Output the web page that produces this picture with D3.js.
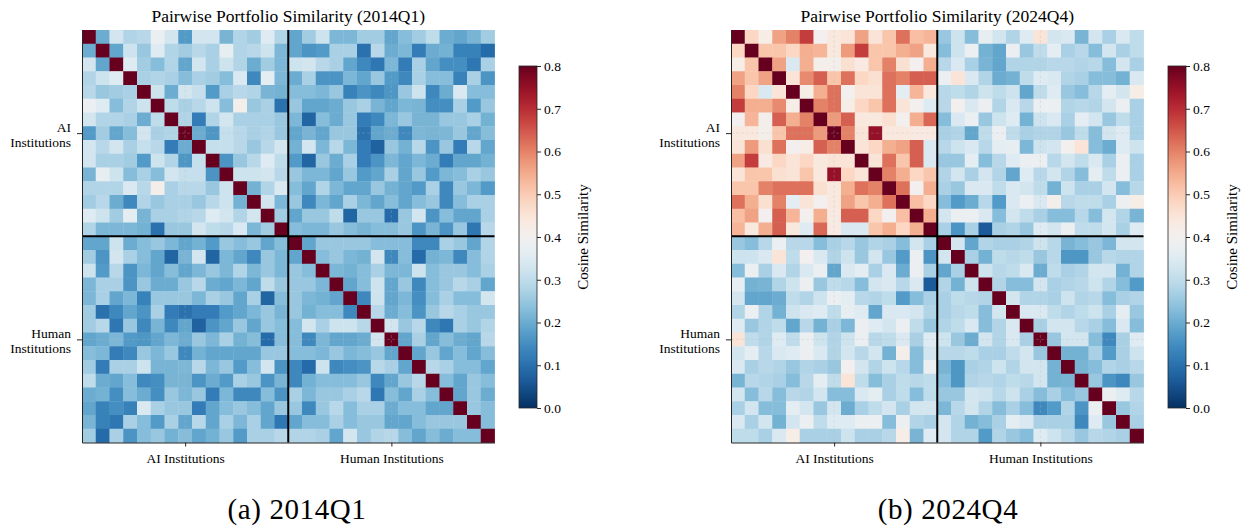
<!DOCTYPE html>
<html>
<head>
<meta charset="utf-8">
<script src="https://cdn.jsdelivr.net/npm/d3@7"></script>
<style>
  html, body { margin: 0; padding: 0; background: #fff; }
  svg { display: block; font-family: "Liberation Serif", "Times New Roman", serif; }
  svg text { font-family: "Liberation Serif", "Times New Roman", serif; }
</style>
</head>
<body>
<svg id="chart" width="1243" height="529"></svg>
<script>
// groups along both axes, 15 institutions each
const groups = ['AI Institutions', 'Human Institutions'];
const groupSize = 15;
const cbTicks = [0, 0.1, 0.2, 0.3, 0.4, 0.5, 0.6, 0.7, 0.8];
const vmax = 0.8;

// upper triangle of the similarity matrix, row i holds columns i+1..29 (diagonal = 1)
const sim2014Q1 = [
  [0.20,0.33,0.28,0.29,0.38,0.33,0.17,0.33,0.33,0.215,0.28,0.26,0.35,0.28, 0.19,0.26,0.32,0.22,0.22,0.26,0.26,0.19,0.23,0.26,0.30,0.20,0.19,0.215,0.26],
  [0.19,0.32,0.25,0.35,0.28,0.26,0.29,0.27,0.37,0.28,0.29,0.32,0.22, 0.19,0.16,0.17,0.27,0.27,0.10,0.29,0.20,0.22,0.12,0.20,0.21,0.13,0.13,0.09],
  [0.35,0.26,0.23,0.28,0.19,0.33,0.27,0.32,0.28,0.20,0.26,0.22, 0.32,0.33,0.29,0.27,0.19,0.14,0.11,0.22,0.12,0.27,0.19,0.15,0.15,0.11,0.27],
  [0.27,0.28,0.27,0.23,0.27,0.26,0.23,0.34,0.14,0.36,0.22, 0.20,0.27,0.16,0.16,0.22,0.19,0.25,0.17,0.14,0.27,0.23,0.23,0.13,0.27,0.16],
  [0.32,0.20,0.33,0.31,0.17,0.27,0.29,0.28,0.215,0.21, 0.23,0.23,0.22,0.25,0.13,0.16,0.14,0.165,0.25,0.32,0.14,0.20,0.34,0.23,0.23],
  [0.30,0.27,0.29,0.32,0.23,0.41,0.25,0.27,0.10, 0.25,0.19,0.19,0.20,0.25,0.27,0.215,0.19,0.22,0.215,0.15,0.15,0.27,0.17,0.25],
  [0.28,0.12,0.28,0.33,0.27,0.27,0.27,0.25, 0.22,0.08,0.23,0.20,0.25,0.12,0.14,0.22,0.25,0.215,0.215,0.25,0.25,0.27,0.21],
  [0.20,0.165,0.31,0.29,0.27,0.28,0.25, 0.19,0.215,0.19,0.25,0.25,0.10,0.19,0.20,0.14,0.22,0.215,0.22,0.25,0.19,0.23],
  [0.31,0.31,0.29,0.25,0.29,0.33, 0.21,0.33,0.22,0.29,0.22,0.12,0.075,0.25,0.21,0.29,0.16,0.25,0.12,0.29,0.19],
  [0.16,0.25,0.29,0.35,0.30, 0.17,0.08,0.25,0.20,0.27,0.12,0.16,0.22,0.19,0.22,0.20,0.12,0.19,0.19,0.21],
  [0.32,0.32,0.33,0.29, 0.25,0.22,0.22,0.19,0.25,0.17,0.19,0.27,0.19,0.25,0.17,0.22,0.23,0.27,0.25],
  [0.21,0.28,0.34, 0.23,0.19,0.28,0.22,0.19,0.19,0.25,0.21,0.19,0.17,0.27,0.14,0.25,0.22,0.17],
  [0.33,0.22, 0.25,0.14,0.22,0.19,0.27,0.22,0.19,0.23,0.19,0.23,0.25,0.14,0.23,0.27,0.27],
  [0.26, 0.19,0.25,0.25,0.30,0.08,0.25,0.25,0.09,0.25,0.33,0.16,0.23,0.19,0.19,0.27],
  [0.23,0.22,0.22,0.25,0.23,0.215,0.23,0.23,0.25,0.16,0.215,0.16,0.25,0.11,0.29],
  [0.19,0.25,0.25,0.25,0.25,0.23,0.23,0.23,0.14,0.14,0.27,0.25,0.19,0.28],
  [0.23,0.25,0.22,0.21,0.33,0.14,0.23,0.09,0.21,0.22,0.14,0.23,0.28],
  [0.22,0.21,0.23,0.27,0.22,0.22,0.32,0.23,0.25,0.25,0.23,0.27],
  [0.19,0.23,0.32,0.19,0.25,0.14,0.23,0.25,0.29,0.27,0.19],
  [0.14,0.32,0.19,0.22,0.15,0.23,0.27,0.23,0.23,0.33],
  [0.29,0.20,0.23,0.16,0.25,0.29,0.27,0.25,0.25],
  [0.33,0.25,0.29,0.14,0.11,0.27,0.25,0.28],
  [0.19,0.27,0.19,0.23,0.20,0.19,0.29],
  [0.19,0.25,0.19,0.23,0.19,0.23],
  [0.29,0.27,0.23,0.23,0.19],
  [0.23,0.19,0.25,0.23],
  [0.19,0.25,0.20],
  [0.25,0.23],
  [0.23]
];

const sim2024Q4 = [
  [0.48,0.42,0.56,0.60,0.68,0.40,0.44,0.45,0.56,0.45,0.51,0.62,0.52,0.535, 0.25,0.32,0.23,0.37,0.33,0.28,0.35,0.45,0.33,0.34,0.215,0.33,0.27,0.34,0.30],
  [0.51,0.51,0.48,0.545,0.535,0.44,0.57,0.68,0.51,0.51,0.545,0.56,0.44, 0.23,0.32,0.38,0.21,0.19,0.38,0.25,0.30,0.36,0.27,0.29,0.23,0.33,0.27,0.30],
  [0.56,0.34,0.545,0.41,0.41,0.46,0.43,0.51,0.60,0.46,0.40,0.545, 0.29,0.34,0.27,0.215,0.19,0.28,0.28,0.28,0.29,0.29,0.28,0.29,0.23,0.33,0.27],
  [0.45,0.59,0.64,0.51,0.62,0.48,0.46,0.62,0.60,0.64,0.64, 0.38,0.45,0.34,0.28,0.20,0.21,0.30,0.35,0.34,0.28,0.27,0.23,0.23,0.21,0.34],
  [0.42,0.545,0.62,0.40,0.45,0.45,0.62,0.36,0.535,0.44, 0.29,0.30,0.28,0.32,0.30,0.32,0.19,0.30,0.35,0.25,0.23,0.29,0.36,0.33,0.42],
  [0.60,0.62,0.42,0.48,0.51,0.62,0.45,0.40,0.35, 0.29,0.40,0.34,0.38,0.28,0.34,0.29,0.38,0.38,0.28,0.29,0.28,0.33,0.38,0.27],
  [0.57,0.64,0.44,0.44,0.46,0.40,0.545,0.63, 0.23,0.34,0.38,0.25,0.32,0.35,0.21,0.32,0.34,0.27,0.36,0.33,0.25,0.30,0.27],
  [0.60,0.45,0.75,0.44,0.44,0.43,0.43, 0.27,0.28,0.19,0.30,0.38,0.30,0.27,0.28,0.28,0.25,0.30,0.23,0.33,0.35,0.27],
  [0.45,0.48,0.545,0.56,0.64,0.34, 0.29,0.32,0.34,0.29,0.36,0.37,0.22,0.32,0.33,0.40,0.45,0.23,0.20,0.35,0.32],
  [0.45,0.62,0.51,0.64,0.34, 0.25,0.25,0.36,0.23,0.29,0.35,0.38,0.38,0.29,0.33,0.30,0.34,0.27,0.38,0.27],
  [0.60,0.545,0.48,0.51, 0.28,0.33,0.27,0.33,0.28,0.19,0.35,0.29,0.33,0.28,0.23,0.36,0.30,0.38,0.27],
  [0.62,0.40,0.545, 0.27,0.25,0.34,0.34,0.30,0.34,0.33,0.30,0.21,0.32,0.27,0.27,0.33,0.23,0.29],
  [0.52,0.48, 0.23,0.17,0.20,0.29,0.17,0.34,0.38,0.34,0.41,0.29,0.30,0.30,0.27,0.38,0.42],
  [0.545, 0.33,0.38,0.38,0.34,0.23,0.33,0.30,0.27,0.23,0.23,0.29,0.23,0.33,0.28,0.215],
  [0.27,0.16,0.27,0.065,0.27,0.28,0.25,0.35,0.33,0.38,0.30,0.30,0.33,0.27,0.35],
  [0.33,0.19,0.28,0.27,0.27,0.28,0.32,0.29,0.215,0.23,0.25,0.22,0.33,0.33],
  [0.27,0.21,0.30,0.29,0.30,0.25,0.29,0.165,0.165,0.25,0.29,0.28,0.28],
  [0.32,0.29,0.30,0.34,0.20,0.30,0.27,0.28,0.33,0.33,0.21,0.28],
  [0.28,0.23,0.23,0.33,0.27,0.28,0.29,0.32,0.28,0.23,0.17],
  [0.33,0.28,0.28,0.27,0.32,0.28,0.29,0.23,0.27,0.28],
  [0.34,0.34,0.30,0.28,0.30,0.32,0.27,0.36,0.25],
  [0.27,0.33,0.33,0.29,0.27,0.23,0.34,0.23],
  [0.25,0.33,0.33,0.23,0.14,0.27,0.35],
  [0.21,0.21,0.27,0.17,0.27,0.32],
  [0.215,0.23,0.28,0.27,0.29],
  [0.25,0.16,0.14,0.25],
  [0.38,0.35,0.29],
  [0.25,0.28],
  [0.27]
];

const panels = [
  { label: '2014Q1', data: sim2014Q1, caption: '(a) 2014Q1', x0: 82, cbX: 519, capX: 297 },
  { label: '2024Q4', data: sim2024Q4, caption: '(b) 2024Q4', x0: 731, cbX: 1168, capX: 948 }
];

const svg = d3.select('#chart'),
      n = groups.length * groupSize,
      y0 = 30,
      size = 412.5,
      cbTop = 66, cbBottom = 408, cbW = 18,
      serif = '"Liberation Serif", "Times New Roman", serif',
      ink = '#262626';

const color = d3.scaleSequential(t => d3.interpolateRdBu(1 - t))
  .domain([0, vmax])
  .clamp(true);

// gradient for the colorbars
const grad = svg.append('defs').append('linearGradient')
  .attr('id', 'cbgrad')
  .attr('x1', 0).attr('y1', 1).attr('x2', 0).attr('y2', 0);
d3.range(0, 1.0001, 0.02).forEach(t => {
  grad.append('stop').attr('offset', t).attr('stop-color', color(t * vmax));
});

const fullMatrix = (upper) => {
  let cells = [];
  for (let i = 0; i < n; i++) {
    cells.push({ r: i, c: i, v: 1 });
    upper[i] && upper[i].forEach((v, k) => {
      let j = i + 1 + k;
      cells.push({ r: i, c: j, v: v });
      cells.push({ r: j, c: i, v: v });
    });
  }
  return cells;
};

panels.forEach(p => {
  const g = svg.append('g'),
        x = d3.scaleBand().domain(d3.range(n)).range([p.x0, p.x0 + size]),
        y = d3.scaleBand().domain(d3.range(n)).range([y0, y0 + size]),
        pos = d3.scaleLinear().domain([0, n]),
        xPos = pos.copy().range([p.x0, p.x0 + size]),
        yPos = pos.copy().range([y0, y0 + size]),
        centers = groups.map((d, i) => (i + 0.5) * groupSize);

  // cells
  g.append('g').selectAll('rect')
    .data(fullMatrix(p.data))
    .join('rect')
      .attr('x', d => x(d.c))
      .attr('y', d => y(d.r))
      .attr('width', x.bandwidth() + 0.4)
      .attr('height', y.bandwidth() + 0.4)
      .attr('fill', d => color(d.v));

  // faint grid at tick positions
  const grid = g.append('g')
    .attr('stroke', '#b8b8b8')
    .attr('stroke-opacity', 0.35)
    .attr('stroke-width', 0.8)
    .attr('stroke-dasharray', '3,2');
  centers.forEach(c => {
    grid.append('line').attr('x1', xPos(c)).attr('x2', xPos(c)).attr('y1', y0).attr('y2', y0 + size);
    grid.append('line').attr('x1', p.x0).attr('x2', p.x0 + size).attr('y1', yPos(c)).attr('y2', yPos(c));
  });

  // block separators
  g.append('line')
    .attr('x1', xPos(groupSize)).attr('x2', xPos(groupSize))
    .attr('y1', y0).attr('y2', y0 + size)
    .attr('stroke', '#000').attr('stroke-width', 2);
  g.append('line')
    .attr('x1', p.x0).attr('x2', p.x0 + size)
    .attr('y1', yPos(groupSize)).attr('y2', yPos(groupSize))
    .attr('stroke', '#000').attr('stroke-width', 2);

  // x axis
  const xAxis = g.append('g')
    .attr('transform', `translate(0,${y0 + size})`)
    .call(d3.axisBottom(xPos).tickValues(centers).tickFormat((d, i) => groups[i]).tickSize(4).tickSizeOuter(0))
    .attr('font-family', serif)
    .attr('font-size', 13.5);
  xAxis.select('.domain').attr('stroke', ink).attr('stroke-width', 1);
  xAxis.selectAll('.tick line').attr('stroke', ink);
  xAxis.selectAll('.tick text').attr('y', 11).attr('fill', '#000');

  // y axis, labels on two lines
  const yAxis = g.append('g')
    .attr('transform', `translate(${p.x0},0)`)
    .call(d3.axisLeft(yPos).tickValues(centers).tickFormat('').tickSize(5).tickSizeOuter(0))
    .attr('font-family', serif)
    .attr('font-size', 13.5);
  yAxis.select('.domain').attr('stroke', ink).attr('stroke-width', 1);
  yAxis.selectAll('.tick line').attr('stroke', ink);
  yAxis.selectAll('.tick').each(function(d, i) {
    const words = groups[i].split(' ');
    const t = d3.select(this).append('text')
      .attr('text-anchor', 'end')
      .attr('fill', '#000');
    words.forEach((w, k) => {
      t.append('tspan').attr('x', -11).attr('y', k === 0 ? -2 : 13).text(w);
    });
  });

  // title
  svg.append('text')
    .attr('x', p.x0 + size / 2)
    .attr('y', 22)
    .attr('text-anchor', 'middle')
    .attr('font-family', serif)
    .style('font-size', '17.5px')
    .text(`Pairwise Portfolio Similarity (${p.label})`);

  // colorbar
  const cb = svg.append('g');
  cb.append('rect')
    .attr('x', p.cbX).attr('y', cbTop)
    .attr('width', cbW).attr('height', cbBottom - cbTop)
    .attr('fill', 'url(#cbgrad)')
    .attr('stroke', ink).attr('stroke-width', 0.8);
  const cbScale = d3.scaleLinear().domain([0, vmax]).range([cbBottom, cbTop]);
  const cbAxis = cb.append('g')
    .attr('transform', `translate(${p.cbX + cbW},0)`)
    .call(d3.axisRight(cbScale).tickValues(cbTicks).tickFormat(d3.format('.1f')).tickSize(4).tickSizeOuter(0))
    .attr('font-family', serif)
    .attr('font-size', 13.5);
  cbAxis.select('.domain').remove();
  cbAxis.selectAll('.tick line').attr('stroke', ink);
  cbAxis.selectAll('.tick text').attr('x', 7).attr('fill', '#000');
  cb.append('text')
    .attr('transform', `translate(${p.cbX + 69},${(cbTop + cbBottom) / 2}) rotate(-90)`)
    .attr('text-anchor', 'middle')
    .attr('font-family', serif)
    .style('font-size', '15px')
    .text('Cosine Similarity');

  // caption
  svg.append('text')
    .attr('x', p.capX)
    .attr('y', 519)
    .attr('text-anchor', 'middle')
    .attr('font-family', serif)
    .style('font-size', '29px')
    .style('letter-spacing', '0.6px')
    .text(p.caption);
});
</script>
</body>
</html>
